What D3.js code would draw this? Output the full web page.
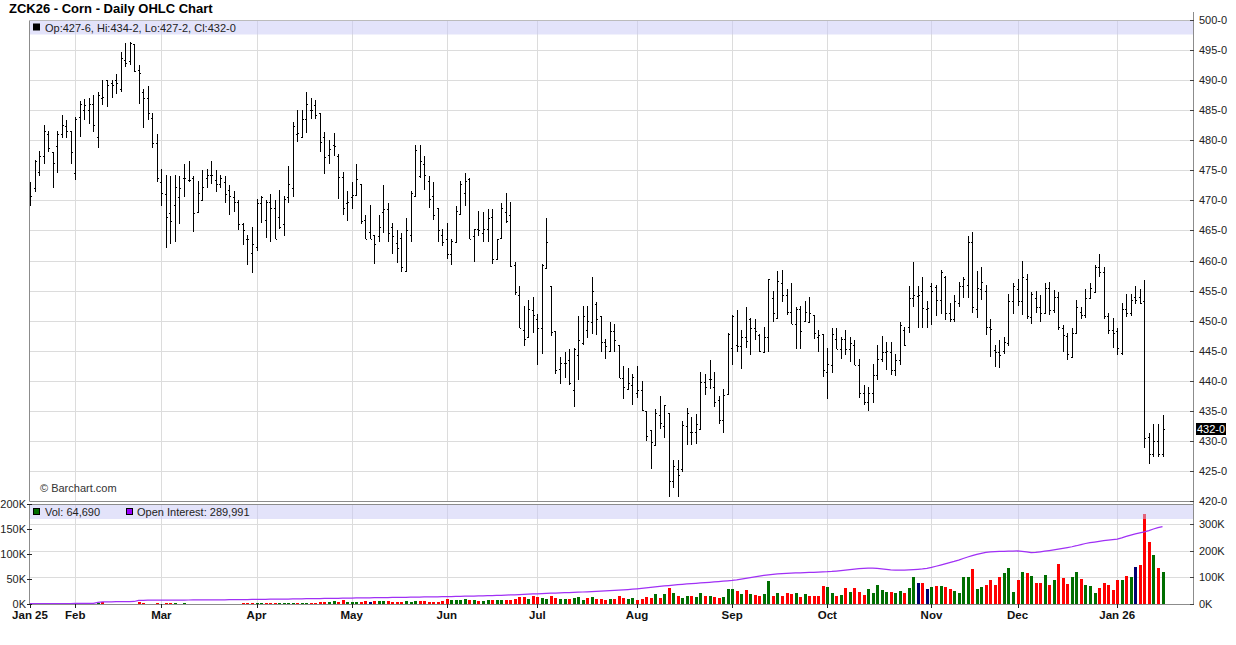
<!DOCTYPE html>
<html><head><meta charset="utf-8">
<script src="https://cdn.jsdelivr.net/npm/d3@7"></script>
<style>
html,body{margin:0;padding:0;background:#fff;}
svg{display:block;font-family:"Liberation Sans",Arial,sans-serif;}
</style></head><body>
<svg id="c" width="1236" height="645"></svg>
<script>
const title = "ZCK26 - Corn - Daily OHLC Chart";
const monthLabels = ["Jan 25","Feb","Mar","Apr","May","Jun","Jul","Aug","Sep","Oct","Nov","Dec","Jan 26"];
const monthStart = [0,10,29,50,71,92,112,134,155,176,199,218,240];
const priceTicks = [420,425,430,435,440,445,450,455,460,465,470,475,480,485,490,495,500];
const volTicksK = [0,50,100,150,200];
const oiTicksK = [0,100,200,300];
const lastVolume = 64690;
const lastOpenInterest = 289991;

const open = [470.0,472.0,474.7,477.3,481.0,478.0,479.0,481.0,482.4,481.5,
474.5,483.8,485.0,485.0,486.0,480.5,487.1,490.0,489.5,490.0,
488.5,493.3,493.2,496.0,491.7,488.1,487.0,483.7,479.5,473.0,
471.0,467.9,469.2,470.6,473.7,473.4,473.7,468.1,470.1,473.7,
474.2,473.4,472.8,473.0,471.7,470.6,469.7,466.1,463.6,461.2,
462.3,469.5,466.7,469.8,468.7,467.3,466.0,470.5,472.0,481.0,
480.5,483.6,485.0,485.9,484.5,480.5,477.5,479.2,477.4,473.9,
469.5,470.5,470.9,472.7,466.7,464.8,464.2,464.1,468.0,468.6,
465.6,462.9,463.7,458.3,464.2,470.7,474.0,476.0,473.2,470.7,
468.7,464.2,463.5,461.0,463.0,467.7,471.2,473.5,464.1,465.2,
464.5,465.2,467.2,460.2,463.7,468.1,467.5,459.2,454.3,448.4,
447.2,451.7,450.3,448.7,458.8,455.8,448.2,442.0,442.9,443.4,
438.5,444.3,446.3,448.4,449.8,452.7,450.8,446.4,444.9,448.3,
445.9,440.4,438.6,439.3,437.9,438.4,435.0,431.8,429.3,434.3,
432.5,434.6,423.4,425.4,425.4,432.4,431.4,431.4,431.9,439.8,
440.3,438.9,436.8,433.5,437.8,445.4,445.9,445.8,447.3,450.2,
448.8,447.6,444.8,447.2,453.7,450.4,456.2,454.3,451.4,449.5,
452.0,450.0,449.7,451.0,447.3,447.8,441.5,442.7,447.0,445.2,
446.9,445.3,445.9,442.7,437.9,436.4,437.9,441.0,443.7,444.8,
444.8,441.8,443.5,448.5,448.9,453.7,454.1,454.9,451.9,455.8,
455.6,453.4,457.3,451.3,450.2,452.9,455.7,456.0,463.0,451.9,
455.2,455.0,449.0,445.1,444.8,445.0,446.2,453.2,455.2,453.2,
457.0,450.6,453.7,452.2,451.2,455.4,451.8,454.0,448.7,447.4,
444.0,447.9,451.4,451.0,453.7,454.8,459.0,458.1,450.7,448.5,
448.2,444.6,451.9,451.2,453.9,453.9,453.3,430.7,427.8,429.9,
427.75];
const high = [473.1,476.7,478.2,482.5,481.6,478.0,481.5,484.2,483.3,481.5,
483.8,486.6,486.8,487.0,487.5,488.1,490.1,490.1,490.0,491.1,
494.7,496.2,496.4,496.0,492.5,488.6,489.0,484.5,481.0,475.2,
474.2,474.1,474.2,474.1,476.1,476.5,474.1,473.2,475.0,475.2,
476.5,475.0,474.2,474.1,472.6,471.6,470.1,466.2,464.2,465.6,
470.2,470.7,470.0,471.0,470.1,471.7,470.7,475.7,483.1,485.0,
485.0,488.0,487.1,486.7,484.5,481.3,480.0,481.2,477.7,474.8,
471.6,473.1,476.0,472.8,467.6,469.2,464.2,467.6,472.6,469.5,
466.3,465.1,464.6,467.1,471.6,479.2,479.2,477.3,474.0,473.1,
468.8,465.2,466.3,463.5,469.0,473.2,474.5,473.7,465.2,468.2,
468.0,468.6,468.6,463.6,469.6,471.3,469.8,459.8,455.8,452.5,
453.4,454.0,451.1,459.4,467.1,455.8,448.3,443.9,444.8,445.3,
445.5,450.8,452.5,452.5,457.3,453.1,450.8,446.9,449.8,449.4,
446.0,442.5,442.2,441.2,442.5,440.0,435.0,431.8,435.3,437.4,
435.9,434.7,426.8,426.8,433.3,435.4,434.0,434.5,441.5,441.2,
443.5,441.5,437.4,438.7,447.9,450.9,451.8,448.4,452.2,450.4,
450.2,447.8,449.0,456.9,454.9,458.2,458.4,455.3,456.2,452.2,
452.4,453.3,454.0,451.0,448.4,447.8,445.5,448.7,448.8,447.3,
448.4,447.2,446.8,443.7,439.3,439.0,442.8,446.0,447.5,446.5,
446.4,444.4,449.8,449.0,455.8,459.7,455.7,457.2,453.2,456.3,
456.0,458.4,457.4,453.0,454.3,456.4,457.3,464.1,464.8,458.3,
459.0,456.0,450.2,445.9,446.8,447.3,454.4,456.2,456.9,459.9,
457.8,454.8,454.9,454.3,456.3,456.5,455.1,454.7,449.3,447.9,
448.7,453.4,452.2,455.2,456.3,459.3,461.1,458.9,451.2,450.4,
448.7,452.9,454.4,454.4,455.8,455.3,456.8,431.3,432.8,432.8,
434.25];
const low = [469.1,471.4,474.1,476.1,478.0,472.0,474.6,480.4,480.4,476.0,
473.4,480.6,483.4,482.7,481.4,478.7,485.9,485.6,487.0,487.7,
488.1,492.2,492.5,491.4,486.1,482.0,483.4,478.7,473.0,469.0,
462.0,462.7,463.0,466.1,470.6,473.0,464.7,468.0,469.9,472.0,
472.8,471.4,472.0,469.5,467.6,468.1,465.1,462.6,459.2,457.9,
461.6,466.2,463.7,463.0,463.6,465.2,464.1,469.5,470.5,479.7,
480.5,481.2,483.6,483.6,478.0,474.4,476.1,477.4,470.2,467.6,
466.5,468.5,470.8,466.1,463.5,463.5,459.4,463.1,464.6,463.1,
461.0,459.6,458.1,458.2,463.0,470.6,473.7,471.7,468.7,466.7,
463.1,462.4,460.2,459.3,463.0,467.7,469.1,463.5,459.8,464.0,
463.0,463.0,459.4,460.2,463.5,466.2,459.0,454.2,448.7,445.8,
447.2,447.9,442.7,444.4,458.8,447.4,441.2,439.4,440.4,439.3,
435.7,440.2,445.9,447.1,447.7,447.6,444.7,443.7,444.9,444.8,
440.4,436.9,438.5,435.9,437.2,434.9,429.9,425.4,429.3,431.9,
430.4,420.7,422.2,420.7,424.8,429.3,429.3,429.4,431.9,437.7,
438.7,435.7,432.8,431.3,437.8,442.7,444.7,441.9,445.4,444.2,
446.8,444.7,444.7,444.8,449.7,450.4,453.1,450.9,449.4,445.2,
445.2,449.7,449.7,446.9,444.8,440.7,436.9,441.3,445.2,443.7,
444.3,443.2,442.7,437.2,436.0,434.9,436.3,440.1,443.2,441.8,
441.0,440.8,442.7,445.7,447.9,452.2,448.7,448.7,448.7,449.3,
450.7,451.1,450.1,449.8,449.8,452.3,453.7,453.7,451.2,450.4,
453.5,447.6,443.9,442.3,442.2,444.5,445.7,451.1,452.4,450.9,
450.2,449.4,451.2,449.8,451.1,451.0,451.3,448.4,444.8,443.5,
444.0,447.9,450.3,450.4,453.6,454.8,457.2,450.2,447.8,445.4,
444.3,444.3,450.6,450.8,452.8,452.8,428.8,426.2,427.3,427.3,
427.25];
const close = [470.8,476.5,477.3,481.6,478.7,476.2,481.0,482.5,481.5,478.0,
483.6,486.1,485.9,486.0,482.5,487.5,487.2,489.2,489.2,489.5,
493.6,492.8,496.1,491.5,491.2,487.0,484.5,479.5,473.7,471.2,
467.3,466.5,472.3,472.0,473.7,473.4,467.9,471.2,472.3,474.2,
474.3,472.8,473.7,471.0,470.8,469.7,466.1,465.1,463.5,462.7,
469.5,470.5,469.8,468.7,463.6,465.6,470.2,472.7,482.3,481.2,
483.6,486.0,485.1,484.2,479.7,477.2,478.6,479.0,473.9,468.7,
469.7,470.9,473.6,466.5,463.6,463.6,462.7,465.6,468.6,464.5,
464.1,462.0,458.9,465.1,471.3,478.3,476.5,474.2,470.2,467.6,
465.1,463.0,461.0,463.2,468.2,472.8,473.2,463.6,465.2,465.1,
465.2,467.0,460.2,463.5,468.8,466.6,459.1,454.7,448.7,446.9,
451.9,450.9,448.7,459.2,463.0,448.1,441.8,442.9,443.0,439.7,
445.2,446.8,450.8,449.9,454.9,450.3,446.4,445.7,448.3,446.8,
440.4,438.9,439.7,440.7,438.4,435.1,430.8,429.8,434.7,432.9,
435.9,423.4,425.8,424.4,432.7,434.7,431.4,432.8,439.8,439.0,
440.3,436.5,433.5,437.7,447.8,450.8,445.8,447.3,446.6,448.8,
448.2,445.0,447.2,456.9,451.2,456.6,454.3,451.4,449.5,452.0,
448.3,451.5,451.2,447.9,447.6,441.8,442.8,447.8,445.2,446.9,
445.3,446.3,442.7,437.9,436.4,437.9,441.0,443.7,444.8,445.0,
441.8,443.5,449.3,446.0,453.7,454.2,454.2,452.1,452.1,455.0,
453.4,458.1,451.3,450.2,453.3,455.8,457.0,463.0,452.2,455.4,
456.4,448.9,448.6,444.8,444.3,446.5,453.2,455.8,453.3,457.3,
450.7,454.5,452.2,451.2,455.4,451.8,454.0,449.0,447.6,444.4,
447.9,452.2,451.0,453.7,455.4,459.0,458.1,450.7,448.5,448.0,
445.4,451.9,451.3,453.4,453.4,453.0,430.4,427.8,429.9,427.8,
432.0];
const volumeK = [0.3,0.2,0.3,0.2,0.4,0.3,0.2,0.3,0.5,0.4,
0.6,0.5,0.4,0.6,0.8,2.7,4.0,0.6,0.5,0.7,
0.8,0.6,0.9,0.7,4.2,2.2,0.8,0.9,2.0,0.9,
2.1,2.0,2.0,0.8,1.9,0.6,0.5,0.7,0.8,0.6,
0.7,0.9,0.8,0.7,0.9,1.0,0.8,1.9,2.0,2.1,
1.2,1.3,2.0,2.1,2.0,2.2,2.1,2.0,2.3,2.1,
2.2,2.4,2.3,2.5,4.1,3.8,4.3,6.1,4.0,7.8,
4.2,3.9,4.4,4.1,6.2,4.0,5.8,6.3,5.9,6.1,
4.2,3.9,4.4,5.9,4.1,6.2,5.8,6.1,4.3,3.8,
4.2,6.0,10.2,7.9,8.2,7.8,10.1,8.3,7.7,6.2,
5.9,8.1,7.8,8.4,7.9,8.2,8.0,10.3,13.8,14.2,
9.8,16.1,13.9,12.2,10.1,15.8,12.1,9.9,10.2,10.0,
12.1,13.8,8.2,11.9,14.1,10.2,10.3,7.8,10.1,9.9,
16.2,12.1,9.8,12.2,7.9,10.1,14.2,11.8,20.1,12.2,
19.8,32.4,21.8,16.2,12.1,15.9,16.3,13.8,22.1,16.0,
16.2,14.1,11.9,13.8,30.2,29.8,26.1,20.2,28.3,19.8,
18.1,16.2,20.1,46.3,16.1,22.2,15.9,22.1,20.2,21.8,
14.1,20.2,16.1,15.8,16.2,36.4,34.1,22.2,15.9,18.2,
32.1,24.2,31.8,23.9,18.1,30.2,22.1,38.3,27.9,24.1,
23.8,22.2,26.1,21.8,32.2,54.1,41.8,42.2,30.1,34.2,
36.1,35.8,34.2,30.1,25.9,22.1,53.8,54.2,70.1,30.2,
33.8,38.1,48.2,37.9,54.1,62.2,71.8,24.1,48.2,63.9,
62.1,56.2,41.9,42.1,58.2,37.8,48.1,80.2,52.1,40.1,
54.2,63.8,50.1,38.2,35.9,22.1,32.2,42.1,37.9,28.2,
48.1,47.9,56.2,53.8,74.1,78.2,180.2,124.1,97.8,72.2,
64.69];
const openInterestK = [1.2,1.2,1.3,1.4,1.4,1.5,1.6,1.6,1.7,1.8,1.9,2.0,2.0,2.2,2.3,
6.1,8.2,8.3,8.4,8.6,8.7,8.9,9.1,9.4,13.6,14.0,
14.1,14.2,14.2,14.4,14.5,14.5,14.7,14.8,14.8,15.0,15.1,15.1,15.3,15.4,15.5,15.6,15.7,15.9,16.1,16.2,16.4,16.6,16.8,17.1,
17.4,17.6,17.7,17.9,18.1,18.2,18.4,18.7,19.0,19.2,19.5,19.7,19.9,20.2,20.4,20.7,21.0,21.2,21.5,21.8,22.1,
22.4,22.6,22.9,23.1,23.4,23.6,23.9,24.1,24.3,24.6,24.8,25.1,25.3,25.6,25.8,26.1,26.3,26.6,26.8,27.1,27.3,
27.6,28.0,28.4,28.7,29.1,29.5,29.9,30.3,30.8,31.2,31.7,32.2,32.8,33.3,33.9,34.6,35.3,36.0,36.8,37.6,
38.4,39.1,39.8,40.5,41.1,41.8,42.4,43.1,43.8,44.4,45.0,45.7,46.4,47.1,47.9,48.8,49.7,50.7,51.8,53.0,54.3,55.6,
57.0,58.6,60.2,62.0,63.9,65.8,67.6,69.3,70.9,72.4,73.8,75.1,76.4,77.6,78.8,80.0,81.3,82.6,84.0,85.4,86.8,
88.2,90.5,93.2,96.0,98.9,101.8,104.5,107.0,109.3,111.2,112.8,114.0,115.0,115.7,116.3,116.9,117.5,118.2,119.0,119.8,120.5,
121.0,122.1,123.6,125.3,127.1,129.0,130.9,132.6,134.0,134.9,134.6,133.5,131.8,129.9,128.3,127.3,127.0,127.2,127.8,128.7,129.9,131.4,133.9,
137.5,141.6,145.9,150.4,154.9,159.5,164.8,170.6,176.2,181.3,185.8,189.8,193.2,195.6,196.8,197.2,197.5,197.9,198.4,
198.9,197.6,195.2,193.1,193.4,195.6,198.0,200.4,203.1,205.9,208.8,211.6,214.7,218.5,223.0,226.9,229.8,232.4,235.2,237.6,239.6,241.4,
243.2,247.9,253.4,258.6,262.9,266.5,270.2,275.4,281.3,286.4,289.991];

const N = close.length;
const svg = d3.select("#c");
const gridC = "#dcdcdc", axisC = "#8c8c8c", textC = "#222";

const x = d3.scaleLinear().domain([0, 250]).range([30, 1162.5]);
const y = d3.scaleLinear().domain([420, 500]).range([501, 20]);
const yv = d3.scaleLinear().domain([0, 200]).range([604, 504]);
const yo = d3.scaleLinear().domain([0, 300]).range([604, 524]);

const L = 29, R = 1193;
const px = v => Math.round(v) + 0.5;
const fmt = p => { const f = Math.floor(p + 1e-9); return f + "-" + Math.round((p - f) * 8); };

// title
svg.append("text").attr("x", 9).attr("y", 13).attr("font-size", 13).attr("font-weight", "bold")
  .attr("fill", "#000").text(title);

// ---------- price panel ----------
const gp = svg.append("g");
gp.selectAll("line.hg").data(priceTicks.filter(d => d > 420 && d < 500)).join("line")
  .attr("x1", L).attr("x2", R).attr("y1", d => px(y(d))).attr("y2", d => px(y(d)))
  .attr("stroke", gridC).attr("stroke-width", 1);
gp.selectAll("line.vg").data(monthStart.slice(1)).join("line")
  .attr("x1", d => px(x(d))).attr("x2", d => px(x(d))).attr("y1", 20).attr("y2", 501)
  .attr("stroke", gridC).attr("stroke-width", 1);

// OHLC bars
const bars = gp.append("g").attr("shape-rendering", "crispEdges");
bars.selectAll("path").data(d3.range(N)).join("path")
  .attr("d", i => {
    const cx = px(x(i));
    const yh = Math.round(y(high[i])), yl = Math.round(y(low[i]));
    const yo_ = px(y(open[i])), yc = px(y(close[i]));
    return `M${cx},${yh}V${Math.max(yl, yh + 1)}M${cx - 1.5},${yo_}H${cx}M${cx},${yc}H${cx + 1.5}`;
  })
  .attr("stroke", "#000").attr("stroke-width", 1).attr("fill", "none");

// header band
svg.append("rect").attr("x", L + 0.5).attr("y", 21).attr("width", R - L - 0.5).attr("height", 13.5)
  .attr("fill", "rgba(200,200,245,0.5)");
svg.append("rect").attr("x", 33).attr("y", 23.5).attr("width", 7).attr("height", 7).attr("fill", "#000");
svg.append("text").attr("x", 45).attr("y", 31.5).attr("font-size", 11).attr("fill", textC)
  .text(`Op:${fmt(open[N-1])}, Hi:${fmt(high[N-1])}, Lo:${fmt(low[N-1])}, Cl:${fmt(close[N-1])}`);
svg.append("text").attr("x", 40).attr("y", 492).attr("font-size", 11).attr("fill", "#333")
  .text("\u00a9 Barchart.com");

// frame price panel
svg.append("path").attr("d", `M${L + 0.5},20V501.5H${R}`).attr("stroke", axisC).attr("fill", "none");
svg.append("path").attr("d", `M${L},20.5H${R}`).attr("stroke", "#bbb").attr("fill", "none");
svg.append("line").attr("x1", R + 0.5).attr("x2", R + 0.5).attr("y1", 12).attr("y2", 604)
  .attr("stroke", axisC);

// right price axis
const pa = svg.append("g");
pa.selectAll("line").data(priceTicks).join("line")
  .attr("x1", R - 3).attr("x2", R + 1).attr("y1", d => px(y(d))).attr("y2", d => px(y(d)))
  .attr("stroke", "#444");
pa.selectAll("text").data(priceTicks).join("text")
  .attr("x", R + 6).attr("y", d => y(d) + 4).attr("font-size", 11).attr("fill", textC)
  .text(d => fmt(d));
// last price marker
const lastY = y(close[N-1]);
svg.append("rect").attr("x", R + 3).attr("y", Math.round(lastY) - 6).attr("width", 30).attr("height", 12)
  .attr("fill", "#000");
svg.append("text").attr("x", R + 4).attr("y", lastY + 4).attr("font-size", 11).attr("fill", "#fff")
  .text(fmt(close[N-1]));

// ---------- volume panel ----------
const gv = svg.append("g");
gv.selectAll("line.hg").data(oiTicksK.filter(d => d > 0)).join("line")
  .attr("x1", L).attr("x2", R).attr("y1", d => px(yo(d))).attr("y2", d => px(yo(d)))
  .attr("stroke", gridC);
gv.selectAll("line.vg").data(monthStart.slice(1)).join("line")
  .attr("x1", d => px(x(d))).attr("x2", d => px(x(d))).attr("y1", 504).attr("y2", 604)
  .attr("stroke", gridC);

const colorOf = i => {
  if (i === 0) return "#006e00";
  if (close[i] > close[i-1]) return "#006e00";
  if (close[i] < close[i-1]) return "#ff0000";
  return "#000070";
};
gv.append("g").attr("shape-rendering", "crispEdges").selectAll("rect").data(d3.range(N)).join("rect")
  .attr("x", i => Math.round(x(i)) - 1).attr("width", 3)
  .attr("y", i => Math.round(yv(volumeK[i])))
  .attr("height", i => Math.max(0, 604 - Math.round(yv(volumeK[i]))))
  .attr("fill", colorOf);

gv.append("path").datum(d3.range(N))
  .attr("d", d3.line().x(i => x(i)).y(i => yo(openInterestK[i])))
  .attr("fill", "none").attr("stroke", "#a030f5").attr("stroke-width", 1.25);

// volume header band
svg.append("rect").attr("x", L + 0.5).attr("y", 505).attr("width", R - L - 0.5).attr("height", 14)
  .attr("fill", "rgba(200,200,245,0.5)");
svg.append("rect").attr("x", 33.5).attr("y", 508.5).attr("width", 6).attr("height", 6)
  .attr("fill", "#006e00").attr("stroke", "#000").attr("stroke-width", 1);
svg.append("text").attr("x", 45).attr("y", 516).attr("font-size", 11).attr("fill", textC)
  .text("Vol: " + d3.format(",")(lastVolume));
svg.append("rect").attr("x", 126.5).attr("y", 508.5).attr("width", 6).attr("height", 6)
  .attr("fill", "#9900ff").attr("stroke", "#000").attr("stroke-width", 1);
svg.append("text").attr("x", 137).attr("y", 516).attr("font-size", 11).attr("fill", textC)
  .text("Open Interest: " + d3.format(",")(lastOpenInterest));

// frames
svg.append("line").attr("x1", L).attr("x2", R).attr("y1", 504.5).attr("y2", 504.5).attr("stroke", axisC);
svg.append("line").attr("x1", L + 0.5).attr("x2", L + 0.5).attr("y1", 504).attr("y2", 604).attr("stroke", axisC);
svg.append("line").attr("x1", L).attr("x2", R + 1).attr("y1", 604.5).attr("y2", 604.5).attr("stroke", axisC);

// left volume axis
const va = svg.append("g");
va.selectAll("line").data(volTicksK).join("line")
  .attr("x1", L - 2).attr("x2", L + 3).attr("y1", d => px(yv(d))).attr("y2", d => px(yv(d)))
  .attr("stroke", "#222");
va.selectAll("text").data(volTicksK).join("text")
  .attr("x", L - 3).attr("y", d => yv(d) + 4).attr("text-anchor", "end").attr("font-size", 11)
  .attr("fill", textC).text(d => d + "K");
// right OI axis
const oa = svg.append("g");
oa.selectAll("line").data(oiTicksK).join("line")
  .attr("x1", R - 3).attr("x2", R + 1).attr("y1", d => px(yo(d))).attr("y2", d => px(yo(d)))
  .attr("stroke", "#444");
oa.selectAll("text").data(oiTicksK).join("text")
  .attr("x", R + 6).attr("y", d => yo(d) + 4).attr("font-size", 11).attr("fill", textC)
  .text(d => d + "K");

// x axis
const xa = svg.append("g");
xa.selectAll("line").data(monthStart).join("line")
  .attr("x1", d => px(x(d))).attr("x2", d => px(x(d))).attr("y1", 604).attr("y2", 608)
  .attr("stroke", "#222");
xa.selectAll("text").data(monthLabels).join("text")
  .attr("x", (d, k) => x(monthStart[k])).attr("y", 619).attr("text-anchor", "middle")
  .attr("font-size", 11.5).attr("font-weight", "bold").attr("fill", "#111").text(d => d);
</script>
</body></html>
